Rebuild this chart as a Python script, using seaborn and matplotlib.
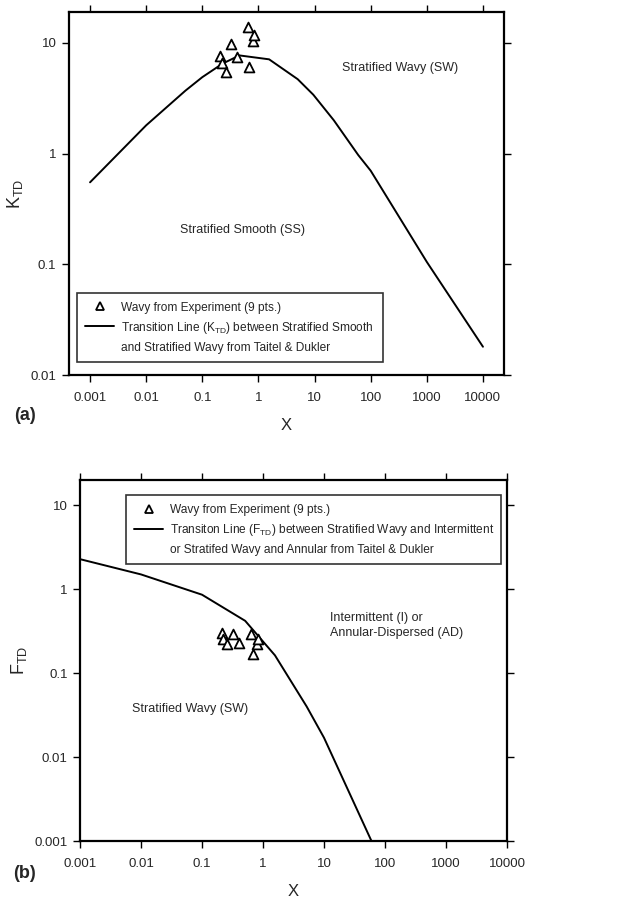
import numpy as np
import matplotlib
matplotlib.use("Agg")
import matplotlib.pyplot as plt
from matplotlib.lines import Line2D
import seaborn as sns
import pandas as pd

# panel (a): transition line K_TD vs X
ktd_x = [0.001, 0.01, 0.05, 0.1, 0.23, 0.46, 1.55, 5.0, 9.5, 22, 60, 100, 1000, 10000]
ktd_y = [0.55, 1.8, 3.7, 4.9, 6.5, 7.7, 7.1, 4.7, 3.4, 2.0, 0.97, 0.7, 0.105, 0.018]

# panel (b): transition line F_TD vs X
ftd_x = [0.001, 0.01, 0.1, 0.51, 1.57, 5.2, 10, 60]
ftd_y = [2.28, 1.5, 0.86, 0.42, 0.163, 0.040, 0.017, 0.001]

# experimental wavy points (9 pts.)
exp_x = [0.21, 0.22, 0.26, 0.32, 0.41, 0.64, 0.68, 0.79, 0.82]
exp_k = [7.6, 6.6, 5.5, 9.7, 7.5, 14.0, 6.0, 10.4, 11.7]
exp_f = [0.30, 0.257, 0.224, 0.295, 0.226, 0.295, 0.167, 0.225, 0.257]

x_ticks = [0.001, 0.01, 0.1, 1, 10, 100, 1000, 10000]
x_tick_labels = ["0.001", "0.01", "0.1", "1", "10", "100", "1000", "10000"]
ya_ticks = [0.01, 0.1, 1, 10]
ya_labels = ["0.01", "0.1", "1", "10"]
yb_ticks = [0.001, 0.01, 0.1, 1, 10]
yb_labels = ["0.001", "0.01", "0.1", "1", "10"]

sns.set_theme(style="ticks")
plt.rcParams['font.family'] = ['Liberation Sans', 'DejaVu Sans']
plt.rcParams['mathtext.fontset'] = 'custom'
plt.rcParams['mathtext.rm'] = 'Liberation Sans'
plt.rcParams['mathtext.it'] = 'Liberation Sans:italic'

TXT = 9
LEG = 8.6

fig = plt.figure(figsize=(6.28, 9), dpi=100)
ax_a = fig.add_axes([69 / 628, 1 - 375 / 900, 435 / 628, 363 / 900])
ax_b = fig.add_axes([80 / 628, 1 - 841 / 900, 427 / 628, 361 / 900])

line_a = pd.DataFrame({"X": ktd_x, "K": ktd_y})
line_b = pd.DataFrame({"X": ftd_x, "F": ftd_y})
pts = pd.DataFrame({"X": exp_x, "K": exp_k, "F": exp_f})


def style_axes(ax, yticks, ylabels, xlim, ylim):
    ax.set_xscale("log")
    ax.set_yscale("log")
    ax.set_xlim(*xlim)
    ax.set_ylim(*ylim)
    ax.set_xticks(x_ticks)
    ax.set_xticklabels(x_tick_labels)
    ax.set_yticks(yticks)
    ax.set_yticklabels(ylabels)
    ax.minorticks_off()
    ax.tick_params(which="both", direction="out", top=True, right=True,
                   length=5, width=1, labelsize=TXT + 0.5, color="black")
    ax.tick_params(axis="x", pad=7)
    ax.tick_params(axis="y", pad=4)
    for s in ax.spines.values():
        s.set_linewidth(1.6)
        s.set_color("black")
    ax.set_facecolor("white")


def make_legend(ax, lab1, lab2, lab3, bbox):
    handles = [
        Line2D([], [], marker="^", color="black", linestyle="none",
               markerfacecolor="white", markersize=6, markeredgewidth=1.3),
        Line2D([], [], color="black", linewidth=1.4),
        Line2D([], [], color="none"),
    ]
    leg = ax.legend(handles, [lab1, lab2, lab3], loc="lower left",
                    bbox_to_anchor=bbox, mode="expand", fontsize=LEG,
                    frameon=True, fancybox=False, handlelength=2.4,
                    handletextpad=0.6, labelspacing=0.5, borderpad=0.7,
                    borderaxespad=0)
    leg.get_frame().set_edgecolor("black")
    leg.get_frame().set_linewidth(1.2)
    return leg


# ---- panel (a)
sns.lineplot(data=line_a, x="X", y="K", ax=ax_a, color="black", linewidth=1.4,
             estimator=None, sort=False)
sns.scatterplot(data=pts, x="X", y="K", ax=ax_a, marker="^", s=50,
                facecolor="white", edgecolor="black", linewidth=1.3, zorder=3)
style_axes(ax_a, ya_ticks, ya_labels, (10 ** -3.375, 10 ** 4.375), (0.01, 19))
ax_a.set_xlabel("X", fontsize=12, labelpad=10)
ax_a.set_ylabel(r"K$_{\rm TD}$", fontsize=13, labelpad=4)
ax_a.text(0.761, 0.846, "Stratified Wavy (SW)", transform=ax_a.transAxes,
          ha="center", va="center", fontsize=TXT)
ax_a.text(0.398, 0.40, "Stratified Smooth (SS)", transform=ax_a.transAxes,
          ha="center", va="center", fontsize=TXT)
make_legend(ax_a, "Wavy from Experiment (9 pts.)",
            r"Transition Line (K$_{\rm TD}$) between Stratified Smooth",
            "and Stratified Wavy from Taitel & Dukler",
            (0.018, 0.036, 0.704, 0.212))

# ---- panel (b)
sns.lineplot(data=line_b, x="X", y="F", ax=ax_b, color="black", linewidth=1.4,
             estimator=None, sort=False)
sns.scatterplot(data=pts, x="X", y="F", ax=ax_b, marker="^", s=50,
                facecolor="white", edgecolor="black", linewidth=1.3, zorder=3)
style_axes(ax_b, yb_ticks, yb_labels, (0.001, 10000), (0.001, 20))
ax_b.set_xlabel("X", fontsize=12, labelpad=10)
ax_b.set_ylabel(r"F$_{\rm TD}$", fontsize=13, labelpad=4)
ax_b.text(0.585, 0.596, "Intermittent (I) or\nAnnular-Dispersed (AD)",
          transform=ax_b.transAxes, ha="left", va="center", fontsize=TXT,
          linespacing=1.35)
ax_b.text(0.258, 0.366, "Stratified Wavy (SW)", transform=ax_b.transAxes,
          ha="center", va="center", fontsize=TXT)
make_legend(ax_b, "Wavy from Experiment (9 pts.)",
            r"Transiton Line (F$_{\rm TD}$) between Stratified Wavy and Intermittent",
            "or Stratifed Wavy and Annular from Taitel & Dukler",
            (0.108, 0.767, 0.878, 0.211))

fig.text(25 / 628, 1 - 415 / 900, "(a)", fontsize=13, fontweight="bold",
         ha="center", va="center")
fig.text(25 / 628, 1 - 873 / 900, "(b)", fontsize=13, fontweight="bold",
         ha="center", va="center")

fig.savefig("out.png", dpi=100, facecolor="white")
